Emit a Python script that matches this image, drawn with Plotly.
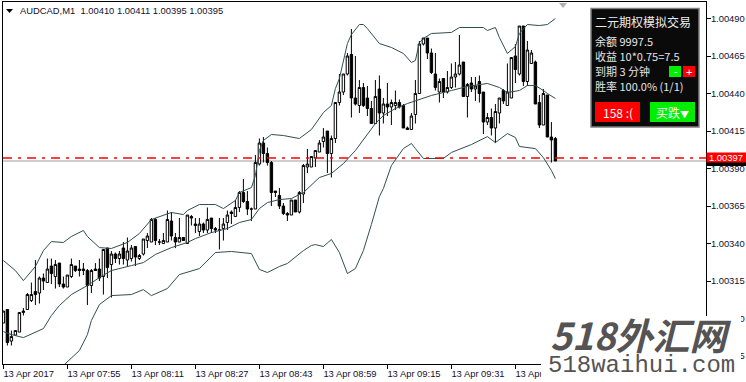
import plotly.graph_objects as go

# Prices are stored as points above 1.00000 (1 point = 0.00001)
BASE = 1.0
POINT = 1e-5

open_pts = [287,296,275,279,281,294,296,302,308,307,317,314,325,318,327,313,311,318,325,323,
            323,322,312,323,323,318,337,326,333,330,337,329,330,338,330,333,342,341,356,341,
            340,341,355,344,341,344,340,358,353,348,353,349,357,350,349,350,354,361,358,364,
            374,368,363,363,393,407,400,394,375,372,365,360,359,369,361,373,391,391,397,401,
            408,415,400,410,434,441,453,466,437,432,444,437,430,420,443,427,433,431,432,434,
            432,417,416,426,440,473,477,467,453,441,450,441,444,451,453,461,438,447,443,448,
            441,421,424,417,427,442,432,437,465,453,485,448,460,461,434,419,439,411,410]
high_pts = [295,296,282,282,294,297,307,314,329,318,320,330,330,329,327,318,319,330,325,329,
            327,323,323,327,330,336,337,335,334,335,341,344,339,338,333,343,347,357,357,343,
            347,362,361,347,357,344,359,359,357,357,354,364,357,351,357,357,362,362,369,375,
            383,375,364,399,410,411,404,395,375,377,367,361,369,369,375,393,403,398,402,409,
            417,415,412,434,453,453,467,483,465,449,447,445,435,449,452,437,447,436,442,436,
            433,418,427,449,475,477,477,470,467,450,450,455,460,461,479,461,447,451,451,452,
            441,427,430,433,437,443,460,464,473,485,485,475,469,462,439,443,439,421,411]
low_pts = [287,272,272,279,281,292,296,301,299,300,309,314,313,310,311,310,311,317,321,318,
           319,299,307,322,315,306,317,304,327,326,326,325,328,325,329,332,337,341,339,339,
           340,341,342,337,341,342,340,352,347,345,347,347,347,347,336,342,349,353,358,361,
           367,359,355,363,392,394,392,365,371,363,359,355,359,361,360,367,387,391,391,401,
           404,387,384,407,432,439,452,424,432,427,431,425,420,420,412,420,425,419,429,430,
           417,416,416,420,440,472,463,453,442,434,437,440,443,444,452,438,424,441,435,434,
           413,419,412,407,420,433,432,437,447,452,445,445,460,433,417,419,411,394,395]
close_pts = [295,274,278,282,294,295,306,306,306,317,315,323,320,326,313,311,319,326,322,322,
             322,312,322,322,317,336,324,333,330,333,330,335,337,331,332,343,345,356,342,341,
             342,356,345,341,344,342,359,357,352,353,349,356,350,349,349,353,359,360,364,374,
             368,363,363,394,407,400,394,374,374,365,360,359,369,361,374,392,393,398,402,407,
             411,400,410,434,441,453,465,437,433,444,432,430,420,438,427,433,431,434,434,431,
             417,416,425,440,473,477,467,454,444,448,441,444,451,453,459,438,446,443,445,440,
             421,424,417,428,437,435,441,464,456,485,448,469,467,433,419,440,411,409,395]

upper_idx = [0,3,5,8,10,12,15,17,20,21,24,27,31,34,37,39,42,45,46,49,53,55,58,59,61,62,63,64,65,67,
             70,74,77,80,82,83,84,86,87,89,90,91,94,97,100,102,103,104,105,107,112,114,120,121,
             123,124,126,127,128,129,131,134,136,138]
upper_pts = [328.7,322,315.3,324.7,335.3,341.3,340.7,344.7,348.7,344.7,337.3,336.7,340.7,346.7,356,
             358,360.7,359.3,362,366,366,363.3,368.7,374,376,377.3,385.3,402,408.7,412.7,412,410,
             416,427.3,432,443.3,450,473.3,479.3,486,486,483.3,473.3,470.7,466.7,460.7,462,474,
             476.7,480,480.7,484,484,482,484,477.3,466.7,468.7,471.3,480,486,485.3,486,490]

middle_idx = [0,2,5,8,10,12,14,17,21,24,27,32,35,38,42,46,48,52,56,59,62,64,66,69,72,75,79,82,85,88,
              90,93,95,98,101,104,107,112,116,121,124,126,129,131,133,135,136,138]
middle_pts = [281.3,279.3,277.3,280.7,283.3,292,298.7,306,312,317.3,322,325.3,327.3,332.7,337.3,
              340.7,343.3,347.3,350,354,356,363.3,367.3,369.3,370,374,384,386.7,393.3,402,409.3,
              420,425.3,430,433.3,436,438.7,442,444.7,446.7,444,440.7,442,445.3,445.3,442,440,436.7]

lower_idx = [15,19,21,22,24,27,32,35,37,41,44,49,53,57,62,64,66,69,71,75,77,78,80,82,84,86,88,90,92,
             94,95,97,100,102,103,105,110,112,117,121,123,126,128,129,133,135,137,138]
lower_pts = [258.7,268.7,279.3,288.7,299.3,305.3,306,309.3,305.3,310,319.3,323.3,334,334.7,333.3,
             322.7,320.7,324.7,326.7,335.3,338.7,339.3,338,342.7,334,320,323.3,335.3,352.7,371.3,
             376.7,392,403.3,406.7,403.3,396.7,396.7,400.7,406,411.3,407.3,413.3,410.7,404.7,403.3,
             397.3,388.7,383.3]

x_tick_idx = [0,16,32,48,64,80,96,112,128]
x_tick_labels = ["13 Apr 2017","13 Apr 07:55","13 Apr 08:11","13 Apr 08:27","13 Apr 08:43",
                 "13 Apr 08:59","13 Apr 09:15","13 Apr 09:31","13 Apr 09:47"]
y_tick_pts = [490,465,440,415,390,365,340,315,290,265]
ask_pts = 397
bid_pts = 395
header = "AUDCAD,M1  1.00410 1.00411 1.00395 1.00395"
panel_title = "二元期权模拟交易"
panel_lines = ["余额 9997.5","收益 10*0.75=7.5","到期 3 分钟","胜率 100.0% (1/1)"]


def price(p):
    return BASE + p * POINT


W, H = 746, 382
L, R, T, B = 3, 706, 2, 364
TEXT_FONT = "Liberation Sans"
CJK_FONT = "Noto Sans CJK SC"
TICK_SIZE = 9.4
TEXT_COLOR = "#101030"


def px(x):
    return (x - L) / (R - L)


def py(y):
    return (B - y) / (B - T)


fig = go.Figure()

fig.add_trace(go.Candlestick(
    x=list(range(len(open_pts))),
    open=[price(v) for v in open_pts],
    high=[price(v) for v in high_pts],
    low=[price(v) for v in low_pts],
    close=[price(v) for v in close_pts],
    whiskerwidth=0,
    increasing=dict(line=dict(color="#000000", width=1), fillcolor="#ffffff"),
    decreasing=dict(line=dict(color="#000000", width=1), fillcolor="#000000"),
    showlegend=False,
))

for idx, pts in ((upper_idx, upper_pts), (middle_idx, middle_pts), (lower_idx, lower_pts)):
    fig.add_trace(go.Scatter(x=idx, y=[price(v) for v in pts], mode="lines",
                             line=dict(color="#2f4f4f", width=1), showlegend=False))


def rect(x0, y0, x1, y1, fill, line=None, lw=0):
    return dict(type="rect", xref="paper", yref="paper", layer="above",
                x0=px(x0), x1=px(x1), y0=py(y0), y1=py(y1),
                fillcolor=fill, line=dict(color=line or fill, width=lw))


def tri(x0, x1, y0, y1, fill):
    path = f"M{px(x0)},{py(y0)} L{px(x1)},{py(y0)} L{px((x0+x1)/2)},{py(y1)} Z"
    return dict(type="path", xref="paper", yref="paper", layer="above", path=path,
                fillcolor=fill, line=dict(width=0))


shapes = [
    # price lines
    dict(type="line", xref="paper", yref="y", x0=0, x1=1, y0=price(bid_pts), y1=price(bid_pts),
         line=dict(color="#bdbdbd", width=1.5), layer="below"),
    dict(type="line", xref="paper", yref="y", x0=0, x1=1, y0=price(ask_pts), y1=price(ask_pts),
         line=dict(color="#ff0000", width=1.5, dash="9px,6px,3px,6px"), layer="above"),
    # right-hand price tags
    rect(706.5, 158, 746, 166, "#000000"),
    rect(706.5, 152.5, 746, 162.5, "#ff0000"),
    # markers
    tri(6, 13, 9, 13, "#000000"),
    tri(559, 567, 3, 8, "#b0b0b0"),
    # panel
    rect(591, 8.5, 699, 127, "#0a0a0a", "#808080", 1.5),
    rect(669, 66, 681, 77, "#00ee00"),
    rect(683, 66, 695, 77, "#ff0000"),
    rect(595, 102, 640, 122, "#ff0000"),
    rect(650, 102, 695, 122, "#00ee00"),
    # watermark block
    rect(541, 316, 741, 382, "#ffffff"),
]


def note(x, y, text, size, color="#000000", family=TEXT_FONT, anchor="left", **kw):
    return dict(xref="paper", yref="paper", x=px(x), y=py(y), text=text, showarrow=False,
                xanchor=anchor, yanchor="middle", align="left",
                font=dict(family=family, size=size, color=color),
                borderpad=0, **kw)


annotations = [
    note(18.5, 11, header.replace("  ", "&nbsp;&nbsp;"), TICK_SIZE, TEXT_COLOR),
    note(594, 22, panel_title, 12, "#ececec", CJK_FONT),
]
for y, line in zip((41, 56, 71, 86), panel_lines):
    annotations.append(note(594, y, line, 11, "#e4e4e4", CJK_FONT))
annotations += [
    note(675, 71.5, "-", 10, "#ffffff", TEXT_FONT, "center"),
    note(689, 71.5, "+", 11, "#ffffff", TEXT_FONT, "center"),
    note(617.5, 112.5, "158 :(", 12, "#ffffff", CJK_FONT, "center"),
    note(672, 112, '买跌<span style="font-size:9px">▼</span>', 12, "#ffffff", CJK_FONT, "center"),
    note(726, 157.5, f"{price(ask_pts):.5f}", TICK_SIZE, "#ffffff", TEXT_FONT, "center"),
    note(640, 333.5, "<b><i>518外汇网</i></b>", 37, "#555353", CJK_FONT, "center"),
    note(641.5, 365, "518waihui.com", 24, "#555353", "Liberation Mono", "center"),
]

fig.update_layout(
    width=W, height=H, autosize=False,
    margin=dict(l=L, r=W - R, t=T, b=H - B, pad=0, autoexpand=False),
    paper_bgcolor="#ffffff", plot_bgcolor="#ffffff",
    showlegend=False, boxgap=0.4, boxgroupgap=0,
    shapes=shapes, annotations=annotations,
    xaxis=dict(range=[-0.1, (R - L) / 4 - 0.1], rangeslider=dict(visible=False),
               tickmode="array", tickvals=x_tick_idx, ticktext=x_tick_labels,
               ticks="outside", ticklen=4, tickwidth=1, tickcolor="#000000",
               ticklabelposition="outside right", tickangle=0, automargin=False,
               ticklabelstandoff=1, ticklabelshift=-1,
               tickfont=dict(family=TEXT_FONT, size=TICK_SIZE, color=TEXT_COLOR),
               showgrid=False, zeroline=False, showline=True, linecolor="#000000",
               linewidth=1, mirror=True),
    yaxis=dict(range=[price(259.7), price(501)], side="right", automargin=False,
               tickmode="array", tickvals=[price(v) for v in y_tick_pts],
               ticktext=[f"{price(v):.5f}" for v in y_tick_pts],
               ticks="outside", ticklen=4, tickwidth=1, tickcolor="#000000",
               ticklabelstandoff=-2,
               tickfont=dict(family=TEXT_FONT, size=TICK_SIZE, color=TEXT_COLOR),
               showgrid=False, zeroline=False, showline=True, linecolor="#000000",
               linewidth=1, mirror=True),
)

fig.write_html("out.html", config=dict(displayModeBar=False),
               post_script="document.body.style.margin='0';document.body.style.overflow='hidden';")
